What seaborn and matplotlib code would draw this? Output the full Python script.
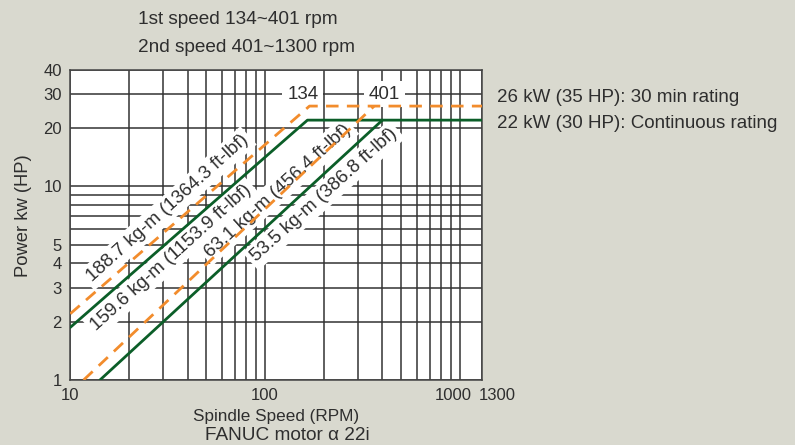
import numpy as np
import pandas as pd
import matplotlib
matplotlib.use("Agg")
import matplotlib.pyplot as plt
import matplotlib.ticker as mticker
import matplotlib.transforms as mtransforms
import seaborn as sns

# ---------------- data ----------------
green1_rpm = [10, 165, 1300]
green1_hp = [1.87, 22, 22]
green2_rpm = [14.2, 400]
green2_hp = [1.0, 22]
orange1_rpm = [10, 169, 1300]
orange1_hp = [2.2, 26, 26]
orange2_rpm = [11.7, 363]
orange2_hp = [1.0, 26]

curve_labels = ["188.7 kg-m (1364.3 ft-lbf)", "159.6 kg-m (1153.9 ft-lbf)",
                "63.1 kg-m (456.4 ft-lbf)", "53.5 kg-m (386.8 ft-lbf)"]
label_rpm = [31.5, 33.0, 116, 200]
label_hp = [7.7, 4.3, 9.5, 9.0]

speed_marks = ["134", "401"]
speed_mark_rpm = [156, 409]
speed_mark_hp = [30, 30]

x_ticks = [10, 100, 1000, 1300]
x_ticklabels = ["10", "100", "1000", "1300"]
y_ticks = [1, 2, 3, 4, 5, 10, 20, 30, 40]
y_ticklabels = ["1", "2", "3", "4", "5", "10", "20", "30", "40"]

title_lines = ["1st speed 134~401 rpm", "2nd speed 401~1300 rpm"]
rating_texts = ["26 kW (35 HP): 30 min rating", "22 kW (30 HP): Continuous rating"]

# ---------------- style ----------------
sns.set_theme(style="white")
plt.rcParams['font.family'] = ['Liberation Sans', 'DejaVu Sans']
BG = "#d9d9cf"
TXT = "#2e2e2e"
GREEN = "#0b5e28"
ORANGE = "#f28c2c"

fig = plt.figure(figsize=(7.95, 4.45), dpi=100, facecolor=BG)
ax = fig.add_axes([0.0884, 0.146, 0.518, 0.697])
ax.set_facecolor("white")
ax.set_xscale("log")
ax.set_yscale("log")
ax.set_xlim(10, 1300)
ax.set_ylim(1, 40)
ax.set_axisbelow(True)

curves = [
    (green1_rpm, green1_hp, GREEN, "-"),
    (green2_rpm, green2_hp, GREEN, "-"),
    (orange1_rpm, orange1_hp, ORANGE, (0, (4.5, 3))),
    (orange2_rpm, orange2_hp, ORANGE, (0, (4.5, 3))),
]
for xs, ys, col, ls in curves:
    df = pd.DataFrame({"rpm": xs, "hp": ys})
    sns.lineplot(data=df, x="rpm", y="hp", ax=ax, color=col, linewidth=2.0,
                 sort=False, estimator=None, zorder=4)
    ax.lines[-1].set_linestyle(ls)

# grid
ax.xaxis.set_major_locator(mticker.FixedLocator(x_ticks))
ax.xaxis.set_major_formatter(mticker.FixedFormatter(x_ticklabels))
ax.xaxis.set_minor_locator(mticker.FixedLocator(
    [v for v in list(range(20, 100, 10)) + list(range(200, 1000, 100))]))
ax.xaxis.set_minor_formatter(mticker.NullFormatter())
ax.yaxis.set_major_locator(mticker.FixedLocator(y_ticks))
ax.yaxis.set_major_formatter(mticker.FixedFormatter(y_ticklabels))
ax.yaxis.set_minor_locator(mticker.FixedLocator([6, 7, 8, 9]))
ax.yaxis.set_minor_formatter(mticker.NullFormatter())
ax.grid(True, which="both", color="#333333", linewidth=1.1)
ax.tick_params(which="both", length=0, labelsize=12, colors=TXT, pad=6)
for s in ax.spines.values():
    s.set_color("#444444")
    s.set_linewidth(1.1)

# shift some x tick labels
offsets = {"1000": -6.5 / 100, "1300": 15 / 100}
for lab in ax.get_xticklabels():
    t = lab.get_text()
    if t in offsets:
        lab.set_transform(lab.get_transform() +
                          mtransforms.ScaledTranslation(offsets[t], 0, fig.dpi_scale_trans))

ax.set_xlabel("Spindle Speed (RPM)", fontsize=12.3, color=TXT, labelpad=4)
ax.set_ylabel("Power kw (HP)", fontsize=13.2, color=TXT)
ax.yaxis.set_label_coords(-0.093, 0.53)

# curve labels
for txt, xv, yv in zip(curve_labels, label_rpm, label_hp):
    ax.text(xv, yv, txt, rotation=42, rotation_mode="anchor", ha="center", va="center",
            fontsize=13.5, color=TXT, zorder=3,
            bbox=dict(boxstyle="square,pad=0.2", fc="white", ec="none"))
for txt, xv, yv in zip(speed_marks, speed_mark_rpm, speed_mark_hp):
    ax.text(xv, yv, txt, ha="center", va="center", fontsize=13.5, color=TXT, zorder=3,
            bbox=dict(boxstyle="square,pad=0.25", fc="white", ec="none"))

# titles and side texts
fig.text(138 / 795, 1 - 20 / 445, title_lines[0], fontsize=13.7, color=TXT, va="center", ha="left")
fig.text(138 / 795, 1 - 47 / 445, title_lines[1], fontsize=13.7, color=TXT, va="center", ha="left")
fig.text(497 / 795, 1 - 98 / 445, rating_texts[0], fontsize=13.5, color=TXT, va="center", ha="left")
fig.text(497 / 795, 1 - 124 / 445, rating_texts[1], fontsize=13.5, color=TXT, va="center", ha="left")
fig.text(287 / 795, 1 - 436 / 445, "FANUC motor \u03b1 22i", fontsize=13.7, color=TXT,
         va="center", ha="center")

fig.savefig("out.png", dpi=100, facecolor=BG)
